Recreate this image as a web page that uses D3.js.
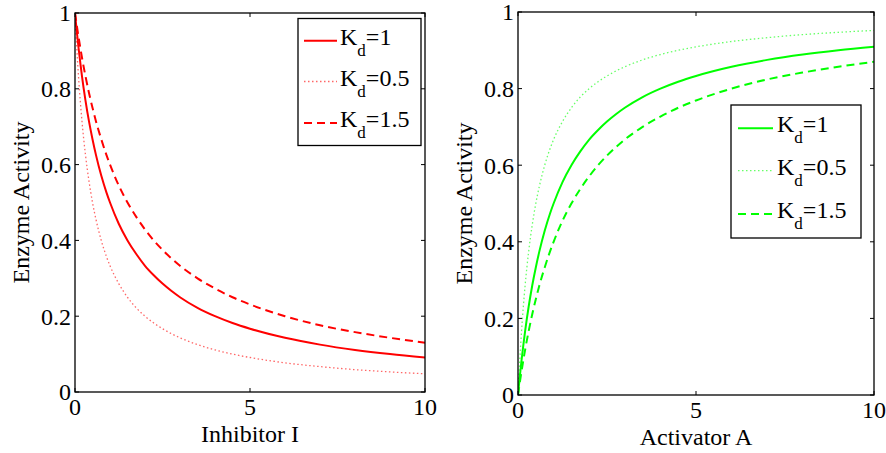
<!DOCTYPE html>
<html><head><meta charset="utf-8">
<script src="https://cdn.jsdelivr.net/npm/d3@7"></script>
<style>
html,body{margin:0;padding:0;background:#fff;}
svg text{font-family:"Liberation Serif","Times New Roman",serif;fill:#000;}
</style></head>
<body><svg id="chart" width="886" height="453"></svg>
<script>
// ---- data ----
const xs = [0, 0.025, 0.05, 0.1, 0.15, 0.2, 0.3, 0.4, 0.5, 0.6, 0.75, 0.9, 1, 1.25, 1.5, 1.75, 2, 2.25, 2.5, 2.75, 3, 3.5, 4, 4.5, 5, 6, 7, 8, 9, 10];
const inhibKd1  = [1, 0.976, 0.952, 0.909, 0.870, 0.833, 0.769, 0.714, 0.667, 0.625, 0.571, 0.526, 0.5, 0.444, 0.4, 0.364, 0.333, 0.308, 0.286, 0.267, 0.25, 0.222, 0.2, 0.182, 0.167, 0.143, 0.125, 0.111, 0.1, 0.091];
const inhibKd05 = [1, 0.952, 0.909, 0.833, 0.769, 0.714, 0.625, 0.556, 0.5, 0.455, 0.4, 0.357, 0.333, 0.286, 0.25, 0.222, 0.2, 0.182, 0.167, 0.154, 0.143, 0.125, 0.111, 0.1, 0.091, 0.077, 0.067, 0.059, 0.053, 0.048];
const inhibKd15 = [1, 0.984, 0.968, 0.9375, 0.909, 0.882, 0.833, 0.789, 0.75, 0.714, 0.667, 0.625, 0.6, 0.545, 0.5, 0.462, 0.429, 0.4, 0.375, 0.353, 0.333, 0.3, 0.273, 0.25, 0.231, 0.2, 0.176, 0.158, 0.143, 0.130];
const actKd1    = [0, 0.024, 0.048, 0.091, 0.130, 0.167, 0.231, 0.286, 0.333, 0.375, 0.429, 0.474, 0.5, 0.556, 0.6, 0.636, 0.667, 0.692, 0.714, 0.733, 0.75, 0.778, 0.8, 0.818, 0.833, 0.857, 0.875, 0.889, 0.9, 0.909];
const actKd05   = [0, 0.048, 0.091, 0.167, 0.231, 0.286, 0.375, 0.444, 0.5, 0.545, 0.6, 0.643, 0.667, 0.714, 0.75, 0.778, 0.8, 0.818, 0.833, 0.846, 0.857, 0.875, 0.889, 0.9, 0.909, 0.923, 0.933, 0.941, 0.947, 0.952];
const actKd15   = [0, 0.016, 0.032, 0.0625, 0.091, 0.118, 0.167, 0.211, 0.25, 0.286, 0.333, 0.375, 0.4, 0.455, 0.5, 0.538, 0.571, 0.6, 0.625, 0.647, 0.667, 0.7, 0.727, 0.75, 0.769, 0.8, 0.824, 0.842, 0.857, 0.870];
const legendKd  = ["1", "0.5", "1.5"];
const xTicks = [0, 5, 10];
const yTicks = [0, 0.2, 0.4, 0.6, 0.8, 1];
const xLabels = ["Inhibitor I", "Activator A"];
const yLabel = "Enzyme Activity";

const svg = d3.select("#chart");
const FS = 24;
const styles = [
  {w: 2, dash: null, op: 1},
  {w: 1.3, dash: "1.5,2.5", op: 0.6},
  {w: 2, dash: "8,5", op: 1}
];

function panel(cfg) {
  const {x0, x1, y0, y1, color, series, xlabel, ylabX, leg, id} = cfg;
  const x = d3.scaleLinear().domain([0, 10]).range([x0, x1]);
  const y = d3.scaleLinear().domain([0, 1]).range([y1, y0]);
  const g = svg.append("g");
  g.append("clipPath").attr("id", id).append("rect")
    .attr("x", x0).attr("y", y0 - 1).attr("width", x1 - x0).attr("height", y1 - y0 + 1);
  const line = d3.line().x((d, i) => x(xs[i])).y(d => y(d)).curve(d3.curveMonotoneX);
  series.forEach((s, k) => {
    const p = g.append("path").attr("d", line(s)).attr("fill", "none")
      .attr("stroke", color).attr("stroke-width", styles[k].w)
      .attr("stroke-opacity", styles[k].op).attr("clip-path", `url(#${id})`);
    if (styles[k].dash) p.attr("stroke-dasharray", styles[k].dash);
  });
  g.append("rect").attr("x", x0).attr("y", y0).attr("width", x1 - x0).attr("height", y1 - y0)
    .attr("fill", "none").attr("stroke", "#000").attr("stroke-width", 1.3);
  const tl = 4;
  yTicks.forEach(t => {
    g.append("line").attr("x1", x0).attr("x2", x0 + tl).attr("y1", y(t)).attr("y2", y(t)).attr("stroke", "#000");
    g.append("line").attr("x1", x1).attr("x2", x1 - tl).attr("y1", y(t)).attr("y2", y(t)).attr("stroke", "#000");
    g.append("text").attr("x", x0 - 4).attr("y", y(t)).attr("dy", "0.35em")
      .attr("text-anchor", "end").attr("font-size", FS).text(String(t));
  });
  xTicks.forEach(t => {
    g.append("line").attr("x1", x(t)).attr("x2", x(t)).attr("y1", y1).attr("y2", y1 - tl).attr("stroke", "#000");
    g.append("line").attr("x1", x(t)).attr("x2", x(t)).attr("y1", y0).attr("y2", y0 + tl).attr("stroke", "#000");
    g.append("text").attr("x", x(t)).attr("y", y1 + 23)
      .attr("text-anchor", "middle").attr("font-size", FS).text(String(t));
  });
  g.append("text").attr("x", (x0 + x1) / 2).attr("y", y1 + 50)
    .attr("text-anchor", "middle").attr("font-size", FS).text(xlabel);
  g.append("text").attr("transform", `translate(${ylabX},${(y0 + y1) / 2}) rotate(-90)`)
    .attr("text-anchor", "middle").attr("font-size", FS).text(yLabel);
  g.append("rect").attr("x", leg.bx0).attr("y", leg.by0).attr("width", leg.bx1 - leg.bx0)
    .attr("height", leg.by1 - leg.by0).attr("fill", "#fff").attr("stroke", "#000").attr("stroke-width", 1.3);
  legendKd.forEach((kd, k) => {
    const ly = leg.rows[k];
    const l = g.append("line").attr("x1", leg.lx0).attr("x2", leg.lx1).attr("y1", ly).attr("y2", ly)
      .attr("stroke", color).attr("stroke-width", styles[k].w).attr("stroke-opacity", styles[k].op);
    if (styles[k].dash) l.attr("stroke-dasharray", styles[k].dash);
    const t = g.append("text").attr("x", leg.tx).attr("y", ly + 4).attr("font-size", FS);
    t.append("tspan").text("K");
    t.append("tspan").attr("font-size", 17).attr("dy", 11).text("d");
    t.append("tspan").attr("dy", -11).text("=" + kd);
  });
}

panel({
  id: "c1", x0: 75, x1: 425, y0: 13, y1: 392, color: "#ff0000",
  series: [inhibKd1, inhibKd05, inhibKd15], xlabel: xLabels[0], ylabX: 29,
  leg: {bx0: 298, bx1: 421, by0: 18.5, by1: 145.5, rows: [40.7, 81.5, 123], lx0: 304, lx1: 337, tx: 340}
});
panel({
  id: "c2", x0: 518, x1: 874, y0: 12, y1: 395, color: "#00ff00",
  series: [actKd1, actKd05, actKd15], xlabel: xLabels[1], ylabX: 472,
  leg: {bx0: 731, bx1: 861, by0: 105, by1: 238, rows: [128.3, 170.7, 214], lx0: 738, lx1: 773, tx: 777}
});
</script>
</body></html>
